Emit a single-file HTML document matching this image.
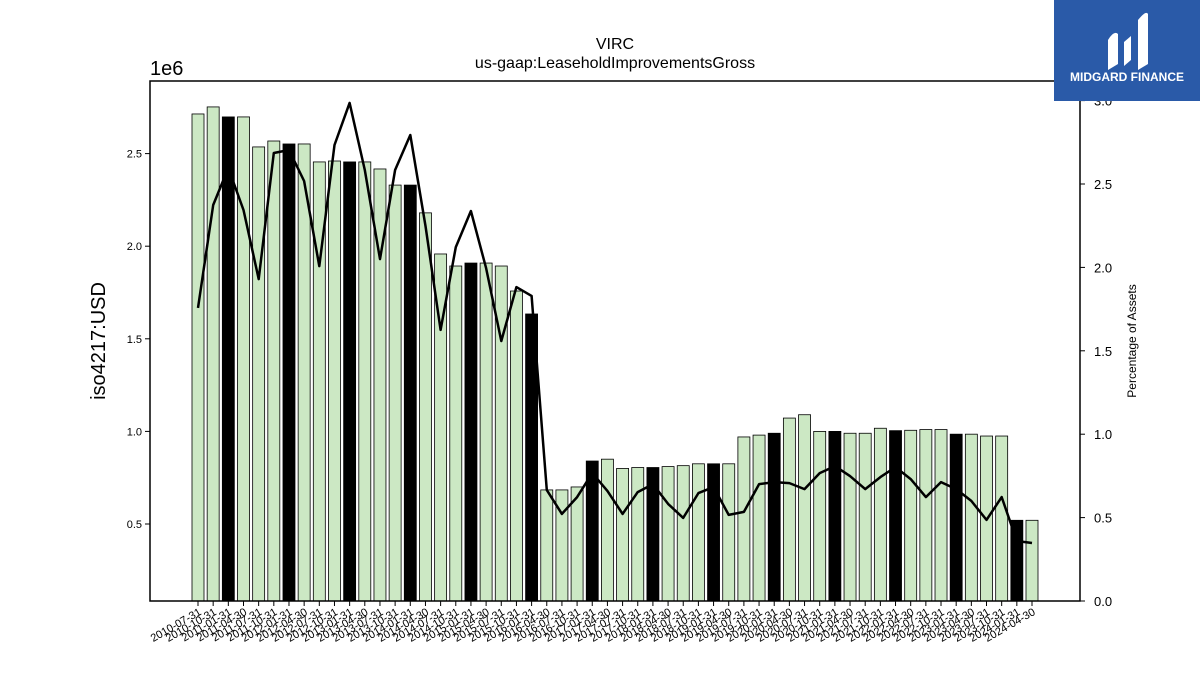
<!DOCTYPE html>
<html><head><meta charset="utf-8"><style>
body{margin:0;background:#fff;}
svg{display:block;font-family:"Liberation Sans","DejaVu Sans",sans-serif;}
</style></head><body>
<svg id="chart" width="1200" height="675" viewBox="0 0 1200 675">
<text x="615" y="49" font-size="16" text-anchor="middle">VIRC</text>
<text x="615" y="68" font-size="16" text-anchor="middle">us-gaap:LeaseholdImprovementsGross</text>
<text x="150" y="75" font-size="20">1e6</text>
<text transform="translate(105,341) rotate(-90)" font-size="20" text-anchor="middle">iso4217:USD</text>
<text transform="translate(1136,341) rotate(-90)" font-size="12" text-anchor="middle">Percentage of Assets</text>
<g id="bars"></g>
<g id="line"></g>
<g id="axes"></g>
<rect x="150" y="81" width="930" height="520" fill="none" stroke="#000" stroke-width="1.5"/>
<g>
<rect x="1054" y="0" width="146" height="101" fill="#2a5aa8"/>
<path d="M1108 70 L1108 40 Q1114 30 1118 34 L1118 64 Z M1124 66 L1124 42 L1131 36 L1131 60 Z M1138 70 L1138 20 Q1146 10 1148 14 L1148 64 Z" fill="#fff"/>
<text x="1127" y="81" font-size="12" font-weight="bold" fill="#fff" text-anchor="middle">MIDGARD FINANCE</text>
</g>
</svg>
<script>
const dates=["2010-07-31","2010-10-31","2011-01-31","2011-04-30","2011-07-31","2011-10-31","2012-01-31","2012-04-30","2012-07-31","2012-10-31","2013-01-31","2013-04-30","2013-07-31","2013-10-31","2014-01-31","2014-04-30","2014-07-31","2014-10-31","2015-01-31","2015-04-30","2015-07-31","2015-10-31","2016-01-31","2016-04-30","2016-07-31","2016-10-31","2017-01-31","2017-04-30","2017-07-31","2017-10-31","2018-01-31","2018-04-30","2018-07-31","2018-10-31","2019-01-31","2019-04-30","2019-07-31","2019-10-31","2020-01-31","2020-04-30","2020-07-31","2020-10-31","2021-01-31","2021-04-30","2021-07-31","2021-10-31","2022-01-31","2022-04-30","2022-07-31","2022-10-31","2023-01-31","2023-04-30","2023-07-31","2023-10-31","2024-01-31","2024-04-30"];
const values=[2.714,2.752,2.698,2.698,2.536,2.568,2.552,2.552,2.455,2.46,2.455,2.455,2.417,2.33,2.33,2.18,1.958,1.893,1.909,1.909,1.893,1.758,1.634,0.684,0.684,0.70,0.84,0.85,0.80,0.805,0.805,0.81,0.815,0.825,0.825,0.825,0.97,0.98,0.99,1.072,1.09,1.0,1.0,0.99,0.99,1.017,1.004,1.006,1.01,1.01,0.985,0.985,0.975,0.975,0.52,0.52];
const percents=[1.757,2.374,2.596,2.344,1.93,2.686,2.704,2.518,2.008,2.734,2.986,2.584,2.05,2.584,2.794,2.248,1.625,2.122,2.338,1.996,1.559,1.882,1.829,0.665,0.522,0.623,0.767,0.66,0.522,0.653,0.701,0.582,0.498,0.647,0.683,0.516,0.534,0.701,0.713,0.707,0.671,0.767,0.809,0.749,0.671,0.743,0.803,0.731,0.623,0.713,0.671,0.600,0.486,0.623,0.36,0.348];
const yTicks=[0.5,1.0,1.5,2.0,2.5];
const y2Ticks=[0.0,0.5,1.0,1.5,2.0,2.5,3.0];
const NS="http://www.w3.org/2000/svg";
const xPos=i=>198+i*(1032-198)/(dates.length-1);
const yL=v=>524-(v-0.5)*185.2;
const yR=p=>601-p*166.8;
function mk(tag,attrs,parent){const e=document.createElementNS(NS,tag);for(const k in attrs)e.setAttribute(k,attrs[k]);parent.appendChild(e);return e;}
const bars=document.getElementById('bars'),line=document.getElementById('line'),axes=document.getElementById('axes');
values.forEach((v,i)=>{
  const y=yL(v);
  const r=mk('rect',{x:xPos(i)-6,y:y,width:12,height:601-y,fill:(i%4===2)?'#000':'#cce8c4',stroke:'#000','stroke-width':0.8},bars);
  
  
});
const pts=percents.map((p,i)=>xPos(i).toFixed(1)+','+yR(p).toFixed(1)).join(' ');
const pl=mk('polyline',{points:pts,fill:'none',stroke:'#000','stroke-width':2.5,'stroke-linejoin':'round'},line);


yTicks.forEach(t=>{
  const y=yL(t);
  const l=mk('line',{x1:145,x2:150,y1:y,y2:y,stroke:'#000'},axes);
  
  
  const tx=mk('text',{x:142,y:y+4,'font-size':11,'text-anchor':'end'},axes);
  tx.textContent=t.toFixed(1);
  
  
});
y2Ticks.forEach(t=>{
  const y=yR(t);
  const l=mk('line',{x1:1080,x2:1085,y1:y,y2:y,stroke:'#000'},axes);
  
  
  const tx=mk('text',{x:1094,y:y+5,'font-size':13},axes);
  tx.textContent=t.toFixed(1);
  
  
});
dates.forEach((d,i)=>{
  const x=xPos(i);
  const l=mk('line',{x1:x,x2:x,y1:601,y2:606,stroke:'#000'},axes);
  
  
  const tx=mk('text',{transform:`translate(${x+4},${614}) rotate(-30)`,'font-size':11,'text-anchor':'end'},axes);
  tx.textContent=d;
  
  
});
</script>
</body></html>
